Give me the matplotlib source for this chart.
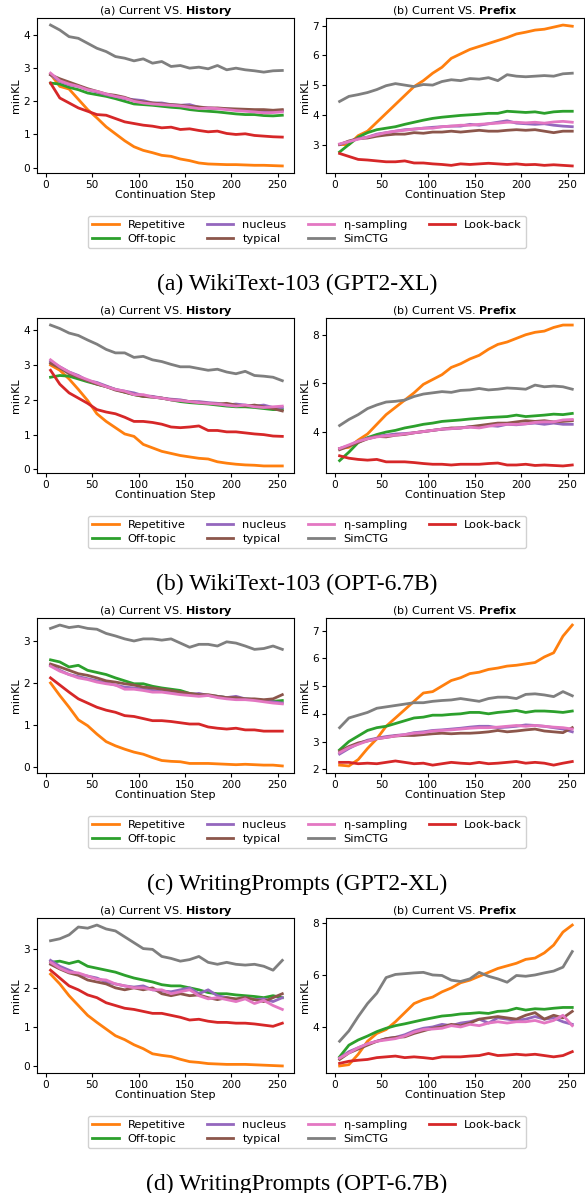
"""minKL of current step vs. history / prefix, four model-dataset settings stacked."""

import numpy as np
import matplotlib

matplotlib.use("Agg")
import matplotlib.pyplot as plt

# continuation steps the values were read at
STEPS = np.arange(5, 256, 10)

METHODS = ["Repetitive", "Off-topic", "nucleus", "typical", "η-sampling", "SimCTG", "Look-back"]
KEYS = ["rep", "off", "nuc", "typ", "eta", "sim", "lb"]
CAPTIONS = ["(a) WikiText-103 (GPT2-XL)", "(b) WikiText-103 (OPT-6.7B)",
            "(c) WritingPrompts (GPT2-XL)", "(d) WritingPrompts (OPT-6.7B)"]

# ---- (a) WikiText-103, GPT2-XL
a_hist_rep = [2.82, 2.45, 2.37, 2.06, 1.75, 1.5, 1.23, 1.02, 0.81, 0.63, 0.52, 0.45, 0.37, 0.34, 0.26, 0.21, 0.14, 0.11, 0.1, 0.09, 0.09, 0.08, 0.07, 0.07, 0.06, 0.05]
a_hist_off = [2.55, 2.52, 2.42, 2.35, 2.25, 2.2, 2.15, 2.08, 2.0, 1.92, 1.9, 1.88, 1.85, 1.82, 1.8, 1.75, 1.72, 1.7, 1.68, 1.65, 1.62, 1.6, 1.6, 1.57, 1.56, 1.58]
a_hist_nuc = [2.8, 2.6, 2.5, 2.45, 2.35, 2.28, 2.2, 2.15, 2.08, 2.05, 2.02, 1.95, 1.95, 1.9, 1.88, 1.9, 1.82, 1.8, 1.78, 1.77, 1.75, 1.73, 1.72, 1.72, 1.7, 1.72]
a_hist_typ = [2.8, 2.68, 2.58, 2.48, 2.38, 2.3, 2.22, 2.18, 2.12, 2.02, 1.98, 1.95, 1.92, 1.9, 1.88, 1.85, 1.83, 1.8, 1.8, 1.78, 1.77, 1.76, 1.75, 1.75, 1.73, 1.75]
a_hist_eta = [2.85, 2.62, 2.52, 2.45, 2.35, 2.3, 2.22, 2.15, 2.1, 2.0, 1.95, 1.92, 1.9, 1.88, 1.86, 1.82, 1.78, 1.8, 1.78, 1.75, 1.72, 1.7, 1.68, 1.65, 1.66, 1.68]
a_hist_sim = [4.3, 4.15, 3.95, 3.9, 3.75, 3.6, 3.5, 3.35, 3.3, 3.22, 3.28, 3.15, 3.2, 3.05, 3.08, 3.0, 3.03, 2.98, 3.08, 2.95, 3.0, 2.95, 2.92, 2.88, 2.92, 2.93]
a_hist_lb = [2.55, 2.1, 1.95, 1.8, 1.7, 1.6, 1.58, 1.48, 1.38, 1.33, 1.28, 1.25, 1.2, 1.22, 1.15, 1.17, 1.12, 1.08, 1.1, 1.03, 1.0, 1.02, 0.97, 0.95, 0.93, 0.92]

a_pref_rep = [3.0, 3.0, 3.3, 3.45, 3.75, 4.05, 4.35, 4.65, 4.95, 5.15, 5.4, 5.6, 5.9, 6.05, 6.2, 6.3, 6.4, 6.5, 6.6, 6.72, 6.78, 6.85, 6.88, 6.95, 7.02, 6.98]
a_pref_off = [2.75, 3.0, 3.25, 3.4, 3.5, 3.55, 3.6, 3.68, 3.75, 3.82, 3.88, 3.92, 3.95, 3.98, 4.0, 4.02, 4.05, 4.05, 4.12, 4.1, 4.08, 4.1, 4.05, 4.1, 4.12, 4.12]
a_pref_nuc = [3.0, 3.1, 3.2, 3.25, 3.35, 3.4, 3.45, 3.5, 3.52, 3.55, 3.58, 3.6, 3.62, 3.62, 3.68, 3.65, 3.7, 3.75, 3.8, 3.72, 3.7, 3.68, 3.7, 3.65, 3.62, 3.6]
a_pref_typ = [3.0, 3.12, 3.2, 3.22, 3.28, 3.32, 3.35, 3.35, 3.4, 3.38, 3.42, 3.42, 3.45, 3.42, 3.45, 3.48, 3.45, 3.45, 3.48, 3.5, 3.48, 3.5, 3.45, 3.4, 3.45, 3.45]
a_pref_eta = [3.02, 3.1, 3.18, 3.25, 3.33, 3.4, 3.45, 3.48, 3.52, 3.55, 3.55, 3.6, 3.62, 3.65, 3.65, 3.68, 3.7, 3.72, 3.75, 3.75, 3.73, 3.75, 3.72, 3.76, 3.78, 3.75]
a_pref_sim = [4.45, 4.62, 4.68, 4.75, 4.85, 4.98, 5.05, 5.0, 4.95, 5.02, 5.0, 5.12, 5.18, 5.15, 5.22, 5.2, 5.25, 5.15, 5.35, 5.3, 5.28, 5.3, 5.32, 5.3, 5.38, 5.4]
a_pref_lb = [2.7, 2.6, 2.5, 2.48, 2.45, 2.42, 2.42, 2.45, 2.38, 2.38, 2.35, 2.33, 2.3, 2.35, 2.33, 2.35, 2.37, 2.35, 2.33, 2.35, 2.32, 2.33, 2.3, 2.32, 2.3, 2.28]

# ---- (b) WikiText-103, OPT-6.7B
b_hist_rep = [3.0, 2.85, 2.6, 2.3, 1.98, 1.6, 1.38, 1.2, 1.02, 0.95, 0.72, 0.62, 0.52, 0.46, 0.4, 0.36, 0.32, 0.3, 0.22, 0.18, 0.15, 0.13, 0.12, 0.1, 0.1, 0.1]
b_hist_off = [2.65, 2.7, 2.68, 2.6, 2.52, 2.45, 2.38, 2.3, 2.22, 2.15, 2.1, 2.08, 2.05, 2.0, 1.95, 1.92, 1.9, 1.88, 1.85, 1.82, 1.8, 1.8, 1.78, 1.75, 1.72, 1.72]
b_hist_nuc = [3.1, 2.95, 2.8, 2.7, 2.55, 2.5, 2.4, 2.3, 2.25, 2.2, 2.12, 2.1, 2.05, 2.02, 2.0, 1.95, 1.95, 1.92, 1.9, 1.85, 1.88, 1.85, 1.82, 1.85, 1.78, 1.78]
b_hist_typ = [3.05, 2.92, 2.75, 2.65, 2.55, 2.45, 2.38, 2.28, 2.22, 2.15, 2.1, 2.08, 2.05, 2.0, 1.98, 1.95, 1.92, 1.9, 1.88, 1.9, 1.85, 1.82, 1.85, 1.8, 1.75, 1.68]
b_hist_eta = [3.15, 2.95, 2.8, 2.68, 2.58, 2.48, 2.38, 2.3, 2.25, 2.15, 2.15, 2.08, 2.05, 2.0, 1.98, 1.95, 1.92, 1.9, 1.88, 1.85, 1.82, 1.85, 1.8, 1.78, 1.8, 1.82]
b_hist_sim = [4.15, 4.05, 3.92, 3.85, 3.72, 3.6, 3.45, 3.35, 3.35, 3.22, 3.25, 3.15, 3.1, 3.02, 2.95, 2.95, 2.9, 2.85, 2.88, 2.8, 2.75, 2.82, 2.7, 2.68, 2.65, 2.55]
b_hist_lb = [2.85, 2.45, 2.2, 2.05, 1.9, 1.72, 1.65, 1.6, 1.5, 1.38, 1.38, 1.35, 1.3, 1.22, 1.2, 1.22, 1.25, 1.12, 1.12, 1.08, 1.08, 1.05, 1.02, 1.0, 0.96, 0.95]

b_pref_rep = [3.3, 3.35, 3.65, 3.9, 4.3, 4.7, 5.0, 5.3, 5.6, 5.95, 6.15, 6.35, 6.65, 6.8, 7.0, 7.15, 7.4, 7.6, 7.7, 7.85, 8.0, 8.1, 8.15, 8.3, 8.4, 8.4]
b_pref_off = [2.8, 3.15, 3.55, 3.75, 3.88, 3.98, 4.05, 4.15, 4.22, 4.3, 4.35, 4.42, 4.45, 4.48, 4.52, 4.55, 4.58, 4.6, 4.62, 4.68, 4.62, 4.65, 4.68, 4.72, 4.7, 4.75]
b_pref_nuc = [3.3, 3.42, 3.6, 3.72, 3.8, 3.85, 3.9, 3.92, 3.95, 4.0, 4.05, 4.1, 4.12, 4.15, 4.2, 4.18, 4.25, 4.22, 4.3, 4.28, 4.32, 4.35, 4.3, 4.35, 4.3, 4.3]
b_pref_typ = [3.25, 3.4, 3.55, 3.7, 3.8, 3.78, 3.85, 3.88, 3.95, 4.0, 4.05, 4.1, 4.15, 4.15, 4.2, 4.25, 4.3, 4.35, 4.35, 4.4, 4.45, 4.42, 4.45, 4.4, 4.42, 4.45]
b_pref_eta = [3.3, 3.45, 3.6, 3.7, 3.78, 3.82, 3.85, 3.9, 3.95, 4.0, 4.05, 4.1, 4.12, 4.15, 4.18, 4.15, 4.22, 4.28, 4.3, 4.3, 4.32, 4.38, 4.4, 4.4, 4.48, 4.5]
b_pref_sim = [4.25, 4.5, 4.7, 4.95, 5.1, 5.22, 5.25, 5.3, 5.45, 5.55, 5.6, 5.65, 5.62, 5.7, 5.72, 5.78, 5.72, 5.75, 5.8, 5.78, 5.75, 5.92, 5.85, 5.88, 5.85, 5.75]
b_pref_lb = [3.0, 2.9, 2.85, 2.82, 2.85, 2.75, 2.75, 2.75, 2.72, 2.68, 2.65, 2.65, 2.62, 2.65, 2.65, 2.65, 2.68, 2.7, 2.62, 2.62, 2.65, 2.6, 2.62, 2.6, 2.58, 2.62]

# ---- (c) WritingPrompts, GPT2-XL
c_hist_rep = [2.0, 1.7, 1.42, 1.12, 0.98, 0.78, 0.6, 0.5, 0.42, 0.35, 0.3, 0.22, 0.15, 0.13, 0.12, 0.08, 0.08, 0.08, 0.07, 0.06, 0.05, 0.06, 0.05, 0.04, 0.04, 0.02]
c_hist_off = [2.55, 2.5, 2.38, 2.42, 2.3, 2.25, 2.2, 2.12, 2.05, 1.98, 1.98, 1.92, 1.88, 1.85, 1.82, 1.75, 1.72, 1.7, 1.68, 1.65, 1.62, 1.62, 1.6, 1.58, 1.56, 1.58]
c_hist_nuc = [2.42, 2.3, 2.2, 2.15, 2.1, 2.05, 2.0, 1.95, 1.9, 1.88, 1.85, 1.82, 1.8, 1.78, 1.75, 1.72, 1.75, 1.7, 1.68, 1.65, 1.68, 1.62, 1.6, 1.58, 1.55, 1.52]
c_hist_typ = [2.45, 2.38, 2.3, 2.22, 2.18, 2.12, 2.05, 2.02, 1.98, 1.95, 1.9, 1.88, 1.85, 1.82, 1.78, 1.75, 1.72, 1.72, 1.68, 1.65, 1.65, 1.62, 1.62, 1.6, 1.62, 1.72]
c_hist_eta = [2.4, 2.28, 2.2, 2.12, 2.08, 2.02, 1.98, 1.95, 1.85, 1.85, 1.82, 1.78, 1.78, 1.75, 1.72, 1.7, 1.68, 1.7, 1.65, 1.62, 1.6, 1.6, 1.58, 1.55, 1.52, 1.5]
c_hist_sim = [3.3, 3.38, 3.32, 3.35, 3.3, 3.28, 3.18, 3.12, 3.05, 3.0, 3.05, 3.05, 3.02, 3.05, 2.95, 2.85, 2.92, 2.92, 2.88, 2.98, 2.95, 2.88, 2.8, 2.82, 2.88, 2.8]
c_hist_lb = [2.12, 1.95, 1.78, 1.62, 1.52, 1.42, 1.35, 1.3, 1.22, 1.2, 1.15, 1.1, 1.1, 1.08, 1.05, 1.02, 1.02, 0.95, 0.92, 0.9, 0.92, 0.88, 0.88, 0.85, 0.85, 0.85]

c_pref_rep = [2.15, 2.12, 2.35, 2.75, 3.1, 3.55, 3.85, 4.15, 4.45, 4.75, 4.8, 5.0, 5.2, 5.3, 5.45, 5.5, 5.6, 5.65, 5.72, 5.75, 5.8, 5.85, 6.05, 6.2, 6.8, 7.2]
c_pref_off = [2.7, 3.0, 3.2, 3.4, 3.5, 3.55, 3.65, 3.75, 3.85, 3.88, 3.95, 3.95, 3.98, 4.0, 4.05, 4.05, 4.0, 4.05, 4.08, 4.12, 4.05, 4.1, 4.1, 4.08, 4.05, 4.1]
c_pref_nuc = [2.55, 2.75, 2.92, 3.05, 3.12, 3.18, 3.22, 3.25, 3.32, 3.35, 3.4, 3.42, 3.45, 3.48, 3.52, 3.55, 3.55, 3.5, 3.52, 3.55, 3.6, 3.58, 3.55, 3.5, 3.45, 3.35]
c_pref_typ = [2.65, 2.82, 2.95, 3.02, 3.1, 3.15, 3.2, 3.22, 3.22, 3.25, 3.28, 3.3, 3.28, 3.3, 3.3, 3.32, 3.35, 3.4, 3.35, 3.38, 3.42, 3.45, 3.38, 3.35, 3.32, 3.5]
c_pref_eta = [2.6, 2.78, 2.9, 3.02, 3.1, 3.15, 3.2, 3.25, 3.3, 3.32, 3.38, 3.4, 3.42, 3.45, 3.48, 3.5, 3.5, 3.52, 3.55, 3.58, 3.55, 3.58, 3.55, 3.52, 3.5, 3.45]
c_pref_sim = [3.5, 3.85, 3.95, 4.05, 4.2, 4.25, 4.3, 4.35, 4.4, 4.4, 4.45, 4.48, 4.5, 4.55, 4.5, 4.45, 4.55, 4.6, 4.6, 4.55, 4.7, 4.72, 4.68, 4.62, 4.8, 4.65]
c_pref_lb = [2.25, 2.25, 2.2, 2.22, 2.2, 2.25, 2.3, 2.25, 2.2, 2.22, 2.15, 2.2, 2.25, 2.22, 2.2, 2.25, 2.2, 2.22, 2.25, 2.28, 2.22, 2.25, 2.22, 2.15, 2.22, 2.28]

# ---- (d) WritingPrompts, OPT-6.7B
d_hist_rep = [2.35, 2.1, 1.8, 1.55, 1.3, 1.12, 0.95, 0.78, 0.68, 0.55, 0.45, 0.32, 0.28, 0.25, 0.18, 0.12, 0.1, 0.07, 0.06, 0.05, 0.05, 0.05, 0.04, 0.03, 0.02, 0.01]
d_hist_off = [2.65, 2.68, 2.62, 2.68, 2.55, 2.5, 2.45, 2.4, 2.32, 2.25, 2.2, 2.15, 2.08, 2.05, 2.05, 2.0, 1.95, 1.88, 1.85, 1.85, 1.82, 1.8, 1.78, 1.75, 1.8, 1.75]
d_hist_nuc = [2.7, 2.55, 2.45, 2.35, 2.3, 2.25, 2.15, 2.1, 2.05, 2.02, 2.05, 1.95, 1.92, 1.9, 1.95, 2.0, 1.85, 1.95, 1.8, 1.75, 1.7, 1.75, 1.7, 1.72, 1.65, 1.75]
d_hist_typ = [2.6, 2.48, 2.38, 2.32, 2.2, 2.15, 2.1, 2.0, 1.95, 2.0, 1.95, 2.0, 1.85, 1.8, 1.85, 1.8, 1.82, 1.75, 1.7, 1.75, 1.72, 1.75, 1.7, 1.65, 1.75, 1.85]
d_hist_eta = [2.65, 2.5, 2.4, 2.38, 2.3, 2.22, 2.2, 2.1, 2.05, 2.0, 2.0, 1.95, 1.95, 1.85, 1.9, 1.95, 1.8, 1.72, 1.75, 1.7, 1.65, 1.72, 1.6, 1.68, 1.55, 1.45]
d_hist_sim = [3.2, 3.25, 3.35, 3.55, 3.52, 3.6, 3.5, 3.45, 3.3, 3.15, 3.0, 2.98, 2.8, 2.75, 2.68, 2.72, 2.8, 2.65, 2.6, 2.65, 2.6, 2.58, 2.6, 2.55, 2.45, 2.7]
d_hist_lb = [2.45, 2.25, 2.05, 1.95, 1.82, 1.75, 1.62, 1.55, 1.48, 1.45, 1.4, 1.35, 1.35, 1.3, 1.25, 1.18, 1.2, 1.15, 1.12, 1.12, 1.1, 1.1, 1.08, 1.05, 1.02, 1.1]

d_pref_rep = [2.5, 2.55, 2.95, 3.45, 3.75, 3.9, 4.2, 4.55, 4.9, 5.05, 5.15, 5.35, 5.5, 5.7, 5.8, 5.95, 6.1, 6.25, 6.35, 6.45, 6.6, 6.65, 6.85, 7.15, 7.65, 7.92]
d_pref_off = [2.85, 3.3, 3.5, 3.65, 3.82, 3.95, 4.05, 4.12, 4.2, 4.28, 4.35, 4.42, 4.45, 4.5, 4.52, 4.55, 4.52, 4.6, 4.62, 4.72, 4.65, 4.7, 4.68, 4.72, 4.75, 4.75]
d_pref_nuc = [2.8, 3.05, 3.2, 3.35, 3.45, 3.55, 3.6, 3.7, 3.85, 3.95, 4.0, 4.1, 4.05, 4.15, 4.2, 4.3, 4.15, 4.35, 4.3, 4.25, 4.3, 4.4, 4.3, 4.35, 4.2, 4.1]
d_pref_typ = [2.75, 3.0, 3.15, 3.3, 3.45, 3.55, 3.6, 3.62, 3.75, 3.85, 3.95, 4.0, 4.1, 4.05, 4.15, 4.3, 4.35, 4.4, 4.35, 4.3, 4.45, 4.55, 4.3, 4.45, 4.35, 4.6]
d_pref_eta = [2.8, 3.0, 3.2, 3.35, 3.45, 3.5, 3.55, 3.65, 3.8, 3.9, 3.92, 3.95, 4.05, 4.0, 4.1, 4.05, 4.15, 4.2, 4.15, 4.2, 4.2, 4.25, 4.15, 4.25, 4.45, 4.05]
d_pref_sim = [3.45, 3.85, 4.4, 4.9, 5.3, 5.9, 6.02, 6.05, 6.08, 6.1, 6.0, 5.98, 5.8, 5.75, 5.85, 6.1, 5.95, 5.85, 5.72, 5.98, 5.95, 6.0, 6.08, 6.15, 6.3, 6.9]
d_pref_lb = [2.6, 2.68, 2.72, 2.75, 2.82, 2.85, 2.88, 2.82, 2.85, 2.82, 2.78, 2.85, 2.85, 2.85, 2.88, 2.9, 2.98, 2.9, 2.92, 2.95, 2.92, 2.95, 2.9, 2.85, 2.9, 3.05]

# y ticks for (history, prefix) in each block
YTICKS = [([0, 1, 2, 3, 4], [3, 4, 5, 6, 7]),
          ([0, 1, 2, 3, 4], [4, 6, 8]),
          ([0, 1, 2, 3], [2, 3, 4, 5, 6, 7]),
          ([0, 1, 2, 3], [4, 6, 8])]

COLORS = ["tab:orange", "tab:green", "tab:purple", "tab:brown", "tab:pink", "tab:gray", "tab:red"]

FS = 8.0       # titles / axis labels
TICK_FS = 7.6
LEG_FS = 8.2
W, H = 585, 1193


def series(block, side):
    g = globals()
    return [g[f"{block}_{side}_{k}"] for k in KEYS]


def main():
    fig = plt.figure(figsize=(W / 100, H / 100), dpi=100)

    for i, block in enumerate("abcd"):
        top = 18 + 300 * i
        bottom = 173 + 300 * i
        y0 = 1 - bottom / H
        h = (bottom - top) / H
        ax_h = fig.add_axes([37 / W, y0, 257 / W, h])
        ax_p = fig.add_axes([326 / W, y0, 258 / W, h])

        for ax, side, title, yt in ((ax_h, "hist", r"(a) Current VS. $\bf{History}$", YTICKS[i][0]),
                                    (ax_p, "pref", r"(b) Current VS. $\bf{Prefix}$", YTICKS[i][1])):
            for name, vals, c in zip(METHODS, series(block, side), COLORS):
                ax.plot(STEPS, vals, color=c, lw=2.0, label=name)
            ax.set_xlim(-9.6, 267.6)
            ax.set_xticks([0, 50, 100, 150, 200, 250])
            ax.set_yticks(yt)
            ax.tick_params(labelsize=TICK_FS, length=3, pad=2)
            ax.set_xlabel("Continuation Step", fontsize=FS, labelpad=0)
            ax.set_ylabel("minKL", fontsize=FS, labelpad=2)
            ax.set_title(title, fontsize=FS, pad=3)

        handles, labels = ax_h.get_legend_handles_labels()
        fig.legend(handles, labels, loc="center", ncol=4, fontsize=LEG_FS,
                   bbox_to_anchor=(307 / W, 1 - (232 + 300 * i) / H),
                   handlelength=2.3, columnspacing=1.9, labelspacing=0.3,
                   borderpad=0.4, framealpha=0.9, edgecolor="#cccccc")

        fig.text(297 / W, 1 - (284 + 300 * i) / H, CAPTIONS[i], ha="center", va="center",
                 fontsize=17, family="Liberation Serif")

    fig.savefig("out.png", dpi=100)


if __name__ == "__main__":
    main()
